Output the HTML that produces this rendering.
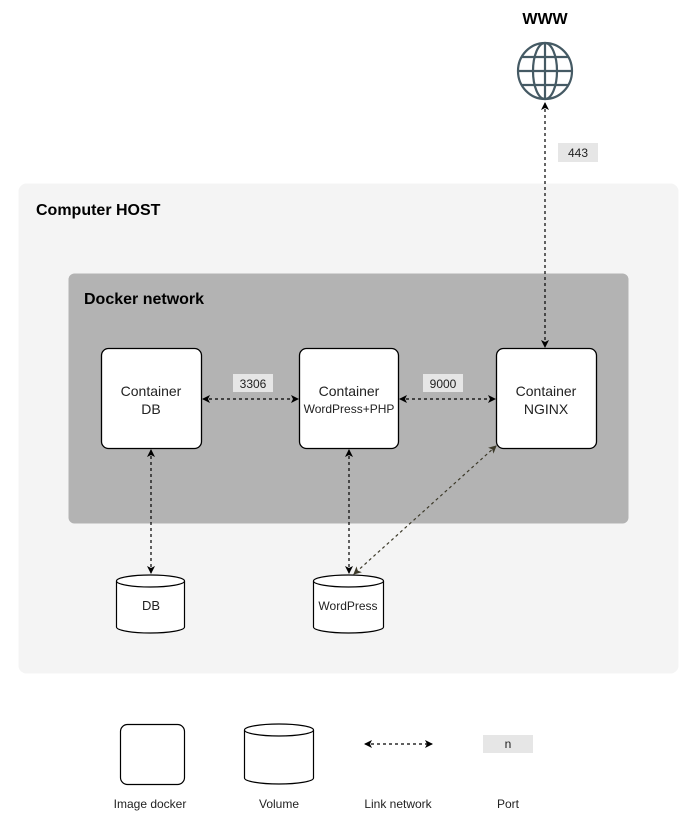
<!DOCTYPE html>
<html><head><meta charset="utf-8"><style>
html,body{margin:0;padding:0;background:#fff;}
svg{display:block;font-family:"Liberation Sans",Arial,sans-serif;}
</style></head><body>
<svg width="693" height="839" viewBox="0 0 693 839" xmlns="http://www.w3.org/2000/svg">
<defs>
<marker id="a" markerWidth="10" markerHeight="10" refX="8" refY="5" orient="auto-start-reverse" markerUnits="userSpaceOnUse">
<path d="M1,1 L9,5 L1,9 L3,5 Z" fill="#000"/>
</marker>
<marker id="b" markerWidth="10" markerHeight="10" refX="8" refY="5" orient="auto-start-reverse" markerUnits="userSpaceOnUse">
<path d="M1,1 L9,5 L1,9 L3,5 Z" fill="#3d3a2a"/>
</marker>
</defs>
<rect x="18.5" y="183.5" width="660" height="490" rx="8" fill="#f4f4f4"/>
<text x="36" y="215" font-size="16" font-weight="bold" fill="#000">Computer HOST</text>
<rect x="68.5" y="273.5" width="560" height="250" rx="6" fill="#b3b3b3"/>
<text x="84" y="304" font-size="16" font-weight="bold" fill="#000">Docker network</text>

<text x="545" y="24" font-size="16" font-weight="bold" text-anchor="middle">WWW</text>
<g fill="none" stroke="#455a64" stroke-width="2.2">
<ellipse cx="545" cy="71" rx="27" ry="28"/>
<ellipse cx="545" cy="71" rx="12" ry="28"/>
<line x1="545" y1="43" x2="545" y2="99"/>
<line x1="518" y1="71" x2="572" y2="71"/>
<path d="M522,57 H568 M522,85 H568"/>
</g>

<g stroke="#000" stroke-width="1.3" fill="#fff">
<rect x="101.5" y="348.5" width="100" height="100" rx="7"/>
<rect x="299.5" y="348.5" width="99" height="100" rx="7"/>
<rect x="496.5" y="348.5" width="100" height="100" rx="7"/>
</g>
<g font-size="14" fill="#222" text-anchor="middle">
<text x="151" y="396">Container</text><text x="151" y="414">DB</text>
<text x="349" y="396">Container</text><text x="349" y="413" font-size="12">WordPress+PHP</text>
<text x="546" y="396">Container</text><text x="546" y="414">NGINX</text>
</g>

<g stroke="#000" stroke-width="1.2" fill="#fff">
<path d="M116.5,581 A34,6 0 0 1 184.5,581 V627 A34,6 0 0 1 116.5,627 Z"/>
<path d="M116.5,581 A34,6 0 0 0 184.5,581"/>
<path d="M313.5,581 A35,6 0 0 1 383.5,581 V627 A35,6 0 0 1 313.5,627 Z"/>
<path d="M313.5,581 A35,6 0 0 0 383.5,581"/>
</g>
<text x="151" y="610" font-size="13" text-anchor="middle" fill="#222">DB</text>
<text x="348" y="610" font-size="12" text-anchor="middle" fill="#222">WordPress</text>

<g stroke="#000" stroke-width="1.2" stroke-dasharray="3,3" fill="none">
<line x1="545" y1="103" x2="545" y2="347" marker-start="url(#a)" marker-end="url(#a)"/>
<line x1="203" y1="399" x2="298" y2="399" marker-start="url(#a)" marker-end="url(#a)"/>
<line x1="400" y1="399" x2="495" y2="399" marker-start="url(#a)" marker-end="url(#a)"/>
<line x1="151" y1="450" x2="151" y2="573" marker-start="url(#a)" marker-end="url(#a)"/>
<line x1="349" y1="450" x2="349" y2="573" marker-start="url(#a)" marker-end="url(#a)"/>
<line x1="496" y1="446" x2="354" y2="574" stroke="#3d3a2a" marker-start="url(#b)" marker-end="url(#b)"/>
<line x1="365" y1="744" x2="432" y2="744" marker-start="url(#a)" marker-end="url(#a)"/>
</g>

<g font-size="12" fill="#222" text-anchor="middle">
<rect x="558" y="143" width="40" height="19" fill="#e6e6e6"/><text x="578" y="157">443</text>
<rect x="233" y="374" width="40" height="18" fill="#e6e6e6"/><text x="253" y="388">3306</text>
<rect x="423" y="374" width="40" height="18" fill="#e6e6e6"/><text x="443" y="388">9000</text>
<rect x="483" y="735" width="50" height="18" fill="#e6e6e6"/><text x="508" y="748">n</text>
</g>

<rect x="120.5" y="724.5" width="64" height="60" rx="7" fill="#fff" stroke="#000" stroke-width="1.2"/>
<g stroke="#000" stroke-width="1.2" fill="#fff">
<path d="M244.5,730 A34.5,6 0 0 1 313.5,730 V778 A34.5,6 0 0 1 244.5,778 Z"/>
<path d="M244.5,730 A34.5,6 0 0 0 313.5,730"/>
</g>
<g font-size="12" fill="#222" text-anchor="middle">
<text x="150" y="808">Image docker</text>
<text x="279" y="808">Volume</text>
<text x="398" y="808">Link network</text>
<text x="508" y="808">Port</text>
</g>
</svg>
</body></html>
